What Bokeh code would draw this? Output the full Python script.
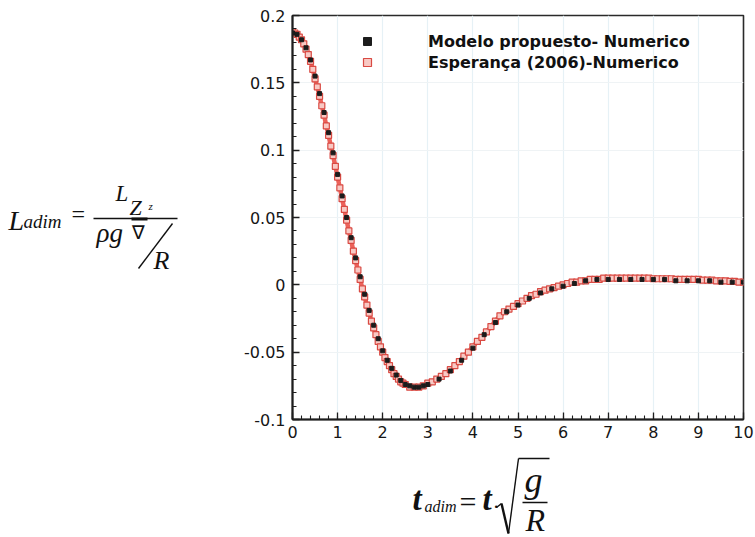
import numpy as np
from bokeh.plotting import figure
from bokeh.layouts import row, column
from bokeh.core.properties import value
from bokeh.models import (Range1d, FixedTicker, CustomJSTickFormatter, Legend, LegendItem)
from bokeh.embed import file_html
from bokeh.resources import INLINE

# ---------------- data ----------------
t_esp = [0.00, 0.05, 0.10, 0.15, 0.20, 0.25, 0.30, 0.35, 0.40, 0.45,
         0.50, 0.55, 0.60, 0.65, 0.70, 0.75, 0.80, 0.85, 0.90, 0.95,
         1.00, 1.05, 1.10, 1.15, 1.20, 1.25, 1.30, 1.35, 1.40, 1.45,
         1.50, 1.55, 1.60, 1.65, 1.70, 1.75, 1.80, 1.85, 1.90, 1.95,
         2.00, 2.05, 2.10, 2.15, 2.20, 2.25, 2.30, 2.35, 2.40, 2.45,
         2.50, 2.6, 2.7, 2.8, 2.9, 3.0, 3.1, 3.2, 3.3, 3.4,
         3.5, 3.6, 3.7, 3.8, 3.9, 4.0, 4.1, 4.2, 4.3, 4.4,
         4.5, 4.6, 4.7, 4.8, 4.9, 5.0, 5.1, 5.2, 5.3, 5.4,
         5.5, 5.6, 5.7, 5.8, 5.9, 6.0, 6.1, 6.2, 6.3, 6.4,
         6.5, 6.6, 6.7, 6.8, 6.9, 7.0, 7.1, 7.2, 7.3, 7.4,
         7.5, 7.6, 7.7, 7.8, 7.9, 8.0, 8.1, 8.2, 8.3, 8.4,
         8.5, 8.6, 8.7, 8.8, 8.9, 9.0, 9.1, 9.2, 9.3, 9.4,
         9.5, 9.6, 9.7, 9.8, 9.9, 10.0]
l_esp = [0.188, 0.187, 0.186, 0.184, 0.182, 0.179, 0.175, 0.171, 0.166, 0.160,
         0.153, 0.147, 0.140, 0.133, 0.126, 0.118, 0.111, 0.103, 0.096, 0.088,
         0.080, 0.072, 0.064, 0.056, 0.048, 0.040, 0.033, 0.025, 0.018, 0.011,
         0.004, -0.003, -0.009, -0.015, -0.021, -0.027, -0.032, -0.037, -0.042, -0.046,
         -0.050, -0.054, -0.057, -0.060, -0.063, -0.066, -0.068, -0.070, -0.072, -0.073,
         -0.074, -0.076, -0.076, -0.076, -0.075, -0.073, -0.072, -0.070, -0.068, -0.066,
         -0.063, -0.060, -0.057, -0.053, -0.050, -0.046, -0.042, -0.039, -0.035, -0.031,
         -0.027, -0.023, -0.020, -0.018, -0.016, -0.014, -0.012, -0.010, -0.008, -0.007,
         -0.005, -0.004, -0.003, -0.002, -0.001, 0.000, 0.001, 0.002, 0.002, 0.003,
         0.003, 0.004, 0.004, 0.004, 0.005, 0.005, 0.005, 0.005, 0.005, 0.005,
         0.005, 0.005, 0.005, 0.005, 0.005, 0.0045, 0.0045, 0.0045, 0.0045, 0.0045,
         0.004, 0.004, 0.004, 0.004, 0.004, 0.004, 0.0035, 0.0035, 0.0035, 0.003,
         0.003, 0.003, 0.0025, 0.0025, 0.002, 0.002]

t_mod = [0.0, 0.1, 0.2, 0.3, 0.4, 0.5, 0.6, 0.7, 0.8, 0.9,
         1.0, 1.1, 1.2, 1.3, 1.4, 1.5, 1.6, 1.7, 1.8, 1.9,
         2.0, 2.1, 2.2, 2.3, 2.4, 2.5, 2.6, 2.7, 2.8, 2.9,
         3.0, 3.25, 3.5, 3.75, 4.0, 4.25, 4.5, 4.75, 5.0, 5.25,
         5.5, 5.75, 6.0, 6.25, 6.5, 6.75, 7.0, 7.25, 7.5, 7.75,
         8.0, 8.25, 8.5, 8.75, 9.0, 9.25, 9.5, 9.75, 10.0]
l_mod = [0.187, 0.186, 0.182, 0.176, 0.167, 0.155, 0.142, 0.128, 0.113, 0.098,
         0.082, 0.066, 0.050, 0.035, 0.020, 0.006, -0.007, -0.019, -0.030, -0.040,
         -0.049, -0.056, -0.062, -0.067, -0.071, -0.074, -0.075, -0.076, -0.076, -0.075,
         -0.074, -0.070, -0.064, -0.056, -0.047, -0.037, -0.028, -0.020, -0.015, -0.010,
         -0.006, -0.003, -0.001, 0.001, 0.003, 0.004, 0.004, 0.004, 0.004, 0.004,
         0.004, 0.004, 0.003, 0.003, 0.003, 0.003, 0.002, 0.002, 0.002]

x_ticks = [0, 1, 2, 3, 4, 5, 6, 7, 8, 9, 10]
y_ticks = [-0.1, -0.05, 0.0, 0.05, 0.1, 0.15, 0.2]
y_tick_labels = ["-0.1", "-0.05", "0", "0.05", "0.1", "0.15", "0.2"]
series_labels = ["Modelo propuesto- Numerico", "Esperança (2006)-Numerico"]

# ---------------- layout (page pixels) ----------------
TOTAL_W, TOTAL_H = 755, 537
LEFT_W = 232                # width of the left equation panel
FX0, FX1, FY0, FY1 = 292, 743, 15, 419   # plot frame
MAIN_H = 450
MAIN_W = TOTAL_W - LEFT_W
BOT_H = TOTAL_H - MAIN_H
TXT_DY = 10                 # correction for the text glyph's baseline placement

p = figure(width=MAIN_W, height=MAIN_H, output_backend="svg", toolbar_location=None,
           x_range=Range1d(0, 10), y_range=Range1d(-0.1, 0.2),
           min_border_left=FX0 - LEFT_W, min_border_right=TOTAL_W - FX1,
           min_border_top=FY0, min_border_bottom=MAIN_H - FY1)
p.background_fill_color = "white"
p.border_fill_color = "white"
p.outline_line_color = "#2a2a2a"
p.outline_line_width = 1.6

p.xaxis.ticker = FixedTicker(ticks=x_ticks, minor_ticks=list(np.round(np.arange(0, 10.001, 0.2), 3)))
p.yaxis.ticker = FixedTicker(ticks=y_ticks, minor_ticks=list(np.round(np.arange(-0.1, 0.2001, 0.01), 3)))
p.yaxis.formatter = CustomJSTickFormatter(
    args=dict(vals=y_ticks, labels=y_tick_labels),
    code="""
    for (let i = 0; i < vals.length; i++) {
        if (Math.abs(vals[i] - tick) < 1e-9) return labels[i];
    }
    return String(tick);
    """)

for ax in (p.xaxis[0], p.yaxis[0]):
    ax.axis_line_width = 2
    ax.axis_line_color = "#1e1e1e"
    ax.major_tick_in = 7
    ax.major_tick_out = 0
    ax.minor_tick_in = 4
    ax.minor_tick_out = 0
    ax.major_tick_line_color = "#1e1e1e"
    ax.minor_tick_line_color = "#1e1e1e"
    ax.major_tick_line_width = 1.3
    ax.minor_tick_line_width = 1.1
    ax.major_label_text_font = "DejaVu Sans"
    ax.major_label_text_font_size = "16px"
    ax.major_label_text_color = "#161616"
p.yaxis.major_label_standoff = 7
p.xaxis.major_label_standoff = 6

p.xgrid.ticker = FixedTicker(ticks=x_ticks)
p.ygrid.ticker = FixedTicker(ticks=y_ticks)
p.xgrid.grid_line_color = "#e6f1f6"
p.ygrid.grid_line_color = "#eff3f5"
p.xgrid.grid_line_width = 1.2
p.ygrid.grid_line_width = 1.2

# ---------------- series ----------------
p.line(t_esp, l_esp, line_color="#ec625a", line_width=4.5)
r_esp = p.scatter(t_esp, l_esp, marker="square", size=6, fill_color="#f8c9c4",
                  line_color="#d94a43", line_width=1.2)
r_mod = p.scatter(t_mod, l_mod, marker="square", size=4, fill_color="#1c1c1c",
                  line_color="#1c1c1c", line_width=1)

legend = Legend(items=[LegendItem(label=series_labels[0], renderers=[r_mod]),
                       LegendItem(label=series_labels[1], renderers=[r_esp])],
                location=(367 - 10 - FX0, FY1 - 72),
                glyph_width=20, glyph_height=20, label_height=20, spacing=1,
                label_standoff=51, padding=0, margin=0,
                border_line_alpha=0, background_fill_alpha=0,
                label_text_font="DejaVu Sans", label_text_font_style="bold",
                label_text_font_size="16px", label_text_color="#111111")
p.add_layout(legend)


# ---------------- equation panels (ranges = page pixels of their frames) ----------------
def panel(w, h, fx0, fx1, fy0, fy1, bl, br):
    f = figure(width=w, height=h, output_backend="svg", toolbar_location=None,
               x_axis_location=None, y_axis_location=None,
               x_range=Range1d(fx0, fx1), y_range=Range1d(fy1, fy0),
               min_border_left=bl, min_border_right=br, min_border_top=0, min_border_bottom=0)
    f.grid.visible = False
    f.outline_line_color = None
    f.background_fill_color = "white"
    f.border_fill_color = "white"
    return f


def txt(f, s, px, py, size, style="italic", font="Liberation Serif"):
    f.text(x=[px], y=[py - TXT_DY], text=[s], text_font=value(font), text_font_size=f"{size}px",
           text_font_style=style, text_color="#111111",
           text_align="left", text_baseline="alphabetic")


def seg(f, x0, y0, x1, y1, w=1.4):
    f.segment(x0=[x0], y0=[y0], x1=[x1], y1=[y1], line_color="#111111", line_width=w)


left = panel(LEFT_W, TOTAL_H, 0, LEFT_W, 0, TOTAL_H, 0, 0)
# L_adim = L_Zz / (rho g nabla / R)
txt(left, "L", 8, 230, 28)
txt(left, "adim", 23, 231, 19)
txt(left, "=", 71, 223, 24, style="normal")
txt(left, "L", 115, 203, 23)
txt(left, "Z", 129, 217, 22)
txt(left, "z", 148, 215, 11)
txt(left, "ρg", 96, 242, 27)
txt(left, "∇", 131, 242, 19, style="normal")
txt(left, "R", 153, 270, 26)
seg(left, 93, 218, 177, 218)
seg(left, 131, 218.5, 147, 218.5, 3)
seg(left, 138, 268, 172, 223)

# bottom panel: its frame lines up with the chart frame (292..743)
bottom = panel(MAIN_W, BOT_H, FX0, FX1, MAIN_H, TOTAL_H, FX0 - LEFT_W, TOTAL_W - FX1)
# t_adim = t . sqrt(g / R)
txt(bottom, "t", 412, 508, 33, style="bold italic")
txt(bottom, "adim", 424, 516, 16)
txt(bottom, "=", 459, 511, 30, style="normal")
txt(bottom, "t", 482, 508, 33, style="bold italic")
txt(bottom, ".", 493, 510, 22, style="normal")
txt(bottom, "g", 524, 489, 36)
txt(bottom, "R", 525, 529, 32)
seg(bottom, 496, 507, 501, 503)
seg(bottom, 501, 503, 508, 533, 2.4)
seg(bottom, 508, 533, 518, 458)
seg(bottom, 518, 458, 549, 458)
seg(bottom, 522, 502, 547, 502)

layout = row(left, column(p, bottom, spacing=0), spacing=0)
open("out.html", "w").write(file_html(layout, INLINE))
